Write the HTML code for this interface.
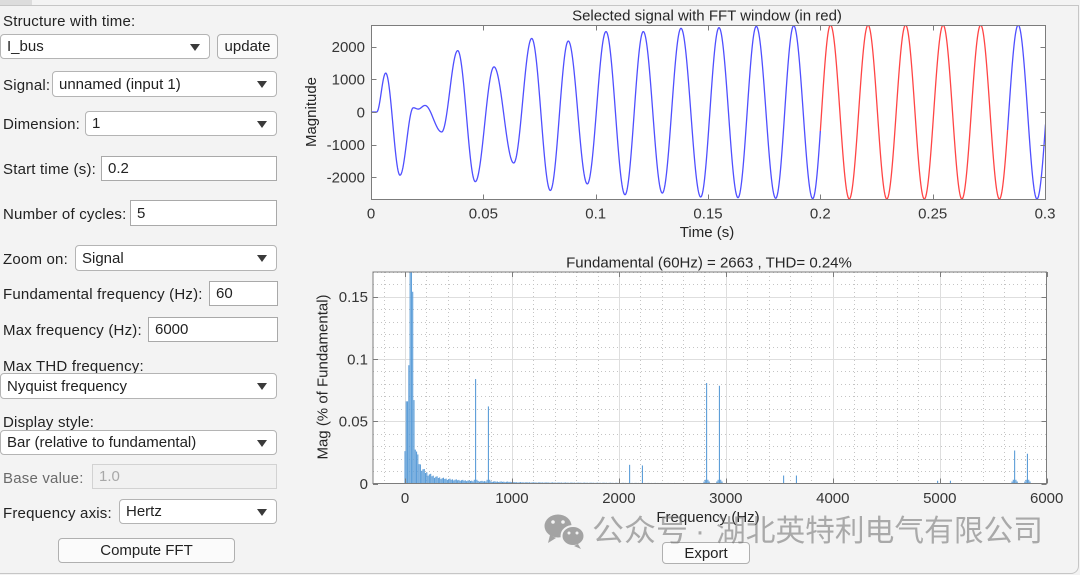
<!DOCTYPE html>
<html><head><meta charset="utf-8">
<style>
*{box-sizing:border-box;}
html,body{margin:0;padding:0;}
body{width:1080px;height:575px;overflow:hidden;background:#f3f3f3;position:relative;font-family:"Liberation Sans","Noto Sans CJK SC",sans-serif;color:#222;}
.lbl{position:absolute;font-size:15px;line-height:18px;height:18px;white-space:nowrap;letter-spacing:0.2px;}
.dd{position:absolute;background:#fff;border:1px solid #b4b4b4;border-radius:4px;font-size:15px;padding-left:6px;padding-top:1px;white-space:nowrap;}
.dd .ar{position:absolute;right:9px;top:50%;margin-top:-3px;width:0;height:0;border-left:5px solid transparent;border-right:5px solid transparent;border-top:7px solid #3a3a3a;}
.in{position:absolute;background:#fff;border:1px solid #a9a9a9;font-size:15px;padding-left:6px;padding-top:1px;white-space:nowrap;}
.btn{position:absolute;background:#fbfbfb;border:1px solid #b0b0b0;border-radius:4px;font-size:15px;text-align:center;padding-top:1px;white-space:nowrap;}
</style></head><body>
<div style="position:absolute;left:0;top:0;width:32px;height:5px;background:#dcdcdc;"></div>
<div style="position:absolute;left:-2px;top:5px;width:1081px;height:569px;border:1px solid #c6c6c6;border-radius:0 0 8px 0;"></div>

<div class="lbl" style="left:3px;top:13px;">Structure with time:</div>
<div class="dd" style="left:0;top:34px;width:210px;height:25px;line-height:22px;">I_bus<span class="ar"></span></div>
<div class="btn" style="left:217px;top:34px;width:61px;height:25px;line-height:22px;">update</div>

<div class="lbl" style="left:3px;top:77px;">Signal:</div>
<div class="dd" style="left:52px;top:71px;width:225px;height:26px;line-height:23px;">unnamed (input 1)<span class="ar"></span></div>

<div class="lbl" style="left:3px;top:116px;">Dimension:</div>
<div class="dd" style="left:85px;top:111px;width:192px;height:25px;line-height:22px;">1<span class="ar"></span></div>

<div class="lbl" style="left:3px;top:161px;">Start time (s):</div>
<div class="in" style="left:101px;top:156px;width:176px;height:25px;line-height:22px;">0.2</div>

<div class="lbl" style="left:3px;top:206px;">Number of cycles:</div>
<div class="in" style="left:130px;top:200px;width:147px;height:26px;line-height:23px;">5</div>

<div class="lbl" style="left:3px;top:251px;">Zoom on:</div>
<div class="dd" style="left:75px;top:245px;width:202px;height:26px;line-height:23px;">Signal<span class="ar"></span></div>

<div class="lbl" style="left:3px;top:286px;">Fundamental frequency (Hz):</div>
<div class="in" style="left:209px;top:281px;width:69px;height:25px;line-height:22px;">60</div>

<div class="lbl" style="left:3px;top:322px;">Max frequency (Hz):</div>
<div class="in" style="left:148px;top:317px;width:130px;height:25px;line-height:22px;">6000</div>

<div class="lbl" style="left:3px;top:358px;">Max THD frequency:</div>
<div class="dd" style="left:0;top:373px;width:277px;height:26px;line-height:23px;">Nyquist frequency<span class="ar"></span></div>

<div class="lbl" style="left:3px;top:414px;">Display style:</div>
<div class="dd" style="left:0;top:430px;width:277px;height:25px;line-height:22px;">Bar (relative to fundamental)<span class="ar"></span></div>

<div class="lbl" style="left:3px;top:470px;color:#6a6a6a;">Base value:</div>
<div class="in" style="left:92px;top:464px;width:185px;height:25px;line-height:22px;background:#f1f1f1;border-color:#d2d2d2;color:#a8a8a8;">1.0</div>

<div class="lbl" style="left:3px;top:505px;">Frequency axis:</div>
<div class="dd" style="left:119px;top:499px;width:158px;height:25px;line-height:22px;">Hertz<span class="ar"></span></div>

<div class="btn" style="left:58px;top:538px;width:177px;height:25px;line-height:22px;">Compute FFT</div>
<div class="btn" style="left:662px;top:542px;width:88px;height:22px;line-height:19px;">Export</div>

<svg id="chart" width="1080" height="575" style="position:absolute;left:0;top:0;" xmlns="http://www.w3.org/2000/svg" font-family="Liberation Sans, sans-serif">
<defs>
<clipPath id="c1"><rect x="371" y="25" width="675" height="175"/></clipPath>
<clipPath id="c2"><rect x="373" y="272" width="674" height="212"/></clipPath>
</defs>
<rect x="371.5" y="25.5" width="674" height="174" fill="#fff"/>
<g id="wave" clip-path="url(#c1)" fill="none" stroke-width="1.3" stroke-linejoin="round"></g>
<g id="topaxes" stroke="#7c7c7c" stroke-width="1" fill="none"></g>
<g id="toptext" font-size="15" fill="#363636"></g>
<text x="707" y="20.5" font-size="15" fill="#262626" text-anchor="middle">Selected signal with FFT window (in red)</text>
<text x="707" y="237" font-size="15" fill="#262626" text-anchor="middle">Time (s)</text>
<text transform="translate(316,112) rotate(-90)" font-size="15" fill="#262626" text-anchor="middle">Magnitude</text>

<rect x="373" y="272" width="673.5" height="211.5" fill="#fff"/>
<g id="grid" fill="none"></g>
<g id="bars" clip-path="url(#c2)" fill="#5c9dd8"></g>
<g id="botaxes" stroke="#7c7c7c" stroke-width="1" fill="none"></g>
<g id="bottext" font-size="15" fill="#363636"></g>
<text x="709" y="267.5" font-size="15" fill="#262626" text-anchor="middle">Fundamental (60Hz) = 2663 , THD= 0.24%</text>
<text x="708" y="522" font-size="15" fill="#262626" text-anchor="middle">Frequency (Hz)</text>
<text transform="translate(327.5,377) rotate(-90)" font-size="15" fill="#262626" text-anchor="middle">Mag (% of Fundamental)</text>

<g>
<ellipse cx="558" cy="526" rx="13.5" ry="11.5" fill="#a3a3a3"/>
<ellipse cx="573" cy="536" rx="11.5" ry="10" fill="#a3a3a3" stroke="#f3f3f3" stroke-width="2"/>
<circle cx="553" cy="522" r="1.8" fill="#f3f3f3"/>
<circle cx="563" cy="522" r="1.8" fill="#f3f3f3"/>
<circle cx="569" cy="533" r="1.5" fill="#f3f3f3"/>
<circle cx="577" cy="533" r="1.5" fill="#f3f3f3"/>
<path d="M550 535 L548 543 L556 538 Z" fill="#a3a3a3"/>
<path d="M578 544 L581 549 L574 546 Z" fill="#a3a3a3"/>
</g>
<g font-family="Liberation Sans, Noto Sans CJK SC, sans-serif" font-size="30" fill="rgba(120,120,120,0.6)">
<text x="592" y="541" textLength="96" lengthAdjust="spacingAndGlyphs">公众号</text>
<text x="695" y="541">·</text>
<text x="716" y="541" textLength="327" lengthAdjust="spacingAndGlyphs">湖北英特利电气有限公司</text>
</g>
</svg>

<script>
(function(){
var NS="http://www.w3.org/2000/svg";
function el(parent,tag,attrs,text){var e=document.createElementNS(NS,tag);for(var k in attrs)e.setAttribute(k,attrs[k]);if(text!==undefined)e.textContent=text;parent.appendChild(e);return e;}

function tx(t){return 371+t*2246.7;}
function ty(v){return 112-v*0.0327;}
var T=[[371,0],[376.7,0],[385.7,1190],[400,-1933],[413.3,130],[418.3,90],[425,200],[441.7,-610],
[457.7,1878],[475.3,-2130],[494,1380],[513.7,-1560],[531.7,2250],[550.3,-2400],[568.3,2170],[587.3,-2200],
[606,2460],[625,-2530],[643.3,2460],[662.3,-2480],[681,2560],[700.7,-2600],[719,2580],[738,-2620],
[756.3,2620],[775.7,-2640],[793.7,2640],[812.7,-2650],[830.5,2660]];
for(var k=1;k<=14;k++)T.push([830.5+k*18.77,(k%2?-2660:2660)]);
function val(x){for(var i=0;i<T.length-1;i++){if(x>=T[i][0]&&x<=T[i+1][0]){var s=(x-T[i][0])/(T[i+1][0]-T[i][0]);return T[i][1]+(T[i+1][1]-T[i][1])*(1-Math.cos(Math.PI*s))/2;}}return 0;}
function path(a,b){var xs=[];for(var x=a;x<b;x+=0.5)xs.push(x);xs.push(b);var d="";for(var i=0;i<xs.length;i++){d+=(i?"L":"M")+xs[i].toFixed(2)+" "+ty(val(xs[i])).toFixed(2);}return d;}
var w=document.getElementById("wave");
var r0=tx(0.2),r1=tx(0.2+5/60);
el(w,"path",{d:path(371,r0),stroke:"#4f4fff"});
el(w,"path",{d:path(r0,r1),stroke:"#ff4545"});
el(w,"path",{d:path(r1,1045.5),stroke:"#4f4fff"});

var ta=document.getElementById("topaxes");
el(ta,"rect",{x:371.5,y:25.5,width:674,height:174});
var tt=document.getElementById("toptext");
var xt=[0,0.05,0.1,0.15,0.2,0.25,0.3],xl=["0","0.05","0.1","0.15","0.2","0.25","0.3"];
for(var i=0;i<xt.length;i++){var x=Math.round(tx(xt[i]))+0.5;
 el(ta,"line",{x1:x,y1:199.5,x2:x,y2:194.5});el(ta,"line",{x1:x,y1:25.5,x2:x,y2:30.5});
 el(tt,"text",{x:tx(xt[i]),y:218.5,"text-anchor":"middle"},xl[i]);}
var yt=[-2000,-1000,0,1000,2000];
for(var i=0;i<yt.length;i++){var y=Math.round(ty(yt[i]))+0.5;
 el(ta,"line",{x1:371.5,y1:y,x2:376.5,y2:y});el(ta,"line",{x1:1045.5,y1:y,x2:1040.5,y2:y});
 el(tt,"text",{x:365,y:ty(yt[i])+5.3,"text-anchor":"end"},String(yt[i]));}

function fx(f){return 405+f*0.10695;}
function fy(v){return 483.5-v*1245;}
var g=document.getElementById("grid");
for(var f=-200;f<6000;f+=200){if(f%1000===0)continue;var x=Math.round(fx(f))+0.5;
 el(g,"line",{x1:x,y1:272,x2:x,y2:483.5,stroke:"#c4c4c4","stroke-dasharray":"1 3","stroke-width":1});}
for(var j=1;j<=17;j++){if(j%5===0)continue;var y=Math.round(fy(j*0.01))+0.5;
 el(g,"line",{x1:373,y1:y,x2:1046.5,y2:y,stroke:"#c4c4c4","stroke-dasharray":"1 3","stroke-width":1});}
for(var f=0;f<6000;f+=1000){var x=Math.round(fx(f))+0.5;
 el(g,"line",{x1:x,y1:272,x2:x,y2:483.5,stroke:"#dedede","stroke-width":1});}
[0.05,0.1,0.15].forEach(function(v){var y=Math.round(fy(v))+0.5;
 el(g,"line",{x1:373,y1:y,x2:1046.5,y2:y,stroke:"#dedede","stroke-width":1});});

var b=document.getElementById("bars");
var spikes={660:0.0839,780:0.0619,2100:0.015,2220:0.0145,2820:0.0807,2940:0.0785,3540:0.0064,3660:0.0064,4980:0.0022,5100:0.0022,5700:0.0265,5820:0.0239};
var low={0:0.026,12:0.066,24:0.066,36:0.095,48:0.5,60:1,72:0.154,84:0.067};
var mult=[1,0.8,0.92,0.7,0.88];
for(var k=0;k<=500;k++){var f=k*12,h;
 if(low[f]!==undefined)h=low[f];else h=1.4/(f-60)*mult[k%5];
 if(f>1000)h=Math.max(h*0.8,0.0004);
 if(spikes[f]!==undefined)h=spikes[f];
 [660,780,2820,2940,5700,5820].forEach(function(sp){var d=Math.abs(f-sp);if(d===12)h=Math.max(h,0.003);if(d===24)h=Math.max(h,0.0016);});
 if(h>0.3)h=0.3;
 var y=fy(h);
 el(b,"rect",{x:(fx(f)-0.55).toFixed(2),y:y.toFixed(2),width:1.1,height:(483.5-y).toFixed(2)});}

var ba=document.getElementById("botaxes");
el(ba,"rect",{x:373,y:272,width:673.5,height:211.5});
var bt=document.getElementById("bottext");
for(var f=0;f<=6000;f+=1000){var x=Math.round(fx(f))+0.5;
 el(ba,"line",{x1:x,y1:483.5,x2:x,y2:478.5});el(ba,"line",{x1:x,y1:272,x2:x,y2:277});
 el(bt,"text",{x:fx(f),y:503,"text-anchor":"middle"},String(f));}
var yv=[0,0.05,0.1,0.15],yl=["0","0.05","0.1","0.15"];
for(var i=0;i<yv.length;i++){var y=Math.round(fy(yv[i]))+0.5;
 el(ba,"line",{x1:373,y1:y,x2:378,y2:y});el(ba,"line",{x1:1046.5,y1:y,x2:1041.5,y2:y});
 el(bt,"text",{x:368,y:fy(yv[i])+5.3,"text-anchor":"end"},yl[i]);}
})();
</script>
</body></html>
